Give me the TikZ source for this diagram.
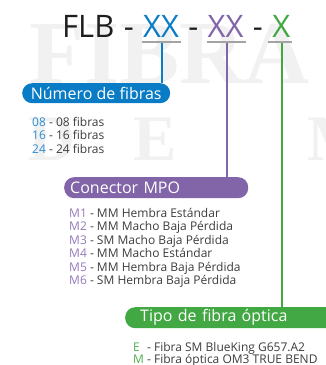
\documentclass[tikz,border=0pt]{standalone}
\usepackage{fontspec}
\setmainfont{Open Sans}
\newfontfamily\wmarkfont{Liberation Serif}
\definecolor{codeblue}{HTML}{0A7CC6}
\definecolor{codepurple}{HTML}{8264A8}
\definecolor{codegreen}{HTML}{42A843}
\definecolor{itemblue}{HTML}{2E8BD0}
\definecolor{itempurple}{HTML}{9479BA}
\definecolor{itemgreen}{HTML}{4DB04E}
\definecolor{titleblack}{HTML}{1E1E1E}
\definecolor{listgray}{HTML}{3C3C3C}
\definecolor{underlinegray}{HTML}{A3A3A3}
\definecolor{wmarkgray}{HTML}{F1F1F1}
\usetikzlibrary{positioning}
\tikzset{
  every node/.style={inner sep=0pt},
  codetitle/.style={font=\fontsize{31}{31}\selectfont, text=titleblack},
  pill/.style={
    rectangle, rounded corners=10pt, minimum height=21pt, text=white,
    font=\fontsize{16}{16}\selectfont, inner xsep=6pt
  },
  codeline/.style={line width=2pt, underlinegray},
  link/.style={line width=2pt},
  itemlist/.style={
    align=left, anchor=north west, text=listgray,
    font=\fontsize{12}{13.5}\selectfont
  },
  wmark/.style={text=wmarkgray, anchor=base west}
}

\begin{document}
\begin{tikzpicture}[x=1pt, y=-1pt]

\clip (0,0) rectangle (326,365);

% Watermark
\node[wmark, font=\wmarkfont\bfseries\fontsize{90}{90}\selectfont] (wmfibra) at (29,83) {FIBRA};
\node[wmark, font=\wmarkfont\bfseries\fontsize{65}{65}\selectfont] (wmde) at (28,160)
  {D\hspace{58pt}E\hspace{131pt}M};

% Code title
\node[codetitle, anchor=base west] (flb) at (62,37) {FLB};
\node[codetitle, base right=9pt of flb] (dasha) {-};
\node[codetitle, text=codeblue, base right=9pt of dasha] (xxa) {XX};
\node[codetitle, base right=9pt of xxa] (dashb) {-};
\node[codetitle, text=codepurple, base right=9pt of dashb] (xxb) {XX};
\node[codetitle, base right=9pt of xxb] (dashc) {-};
\node[codetitle, text=codegreen, base right=9pt of dashc] (xxc) {X};

% Underlines
\draw[codeline] ([xshift=-1pt, yshift=-5pt] xxa.south west) -- ([xshift=2pt, yshift=-5pt] xxa.south east);
\draw[codeline] ([xshift=-1pt, yshift=-5pt] xxb.south west) -- ([xshift=2pt, yshift=-5pt] xxb.south east);
\draw[codeline] ([xshift=-4pt, yshift=-5pt] xxc.south west) -- ([xshift=2pt, yshift=-5pt] xxc.south east);

% Pills
\node[pill, fill=codeblue, minimum width=148pt, minimum height=20pt, anchor=north west] (numpill)
  at (22,83) {Número de fibras};
\node[pill, fill=codepurple, text width=172pt, anchor=north west] (mpopill)
  at (64,177) {Conector MPO};
\node[pill, fill=codegreen, text width=200pt, inner xsep=15pt, anchor=north west] (tipopill)
  at (125,307) {Tipo de fibra óptica};

% Links
\draw[link, codeblue] ([xshift=1pt, yshift=-6pt] xxa.south) -- ([xshift=1pt] xxa.south |- numpill.north);
\draw[link, codepurple] ([xshift=1pt, yshift=-6pt] xxb.south) -- ([xshift=1pt] xxb.south |- mpopill.north);
\draw[link, codegreen] ([xshift=1pt, yshift=-6pt] xxc.south) -- ([xshift=1pt] xxc.south |- tipopill.north);

% Lists
\node[itemlist] (numlist) at (32,117)
  {\textcolor{itemblue}{08} - 08 fibras\\
   \textcolor{itemblue}{16} - 16 fibras\\
   \textcolor{itemblue}{24} - 24 fibras};
\node[itemlist] (mpolist) at (69,208)
  {\textcolor{itempurple}{M1} - MM Hembra Estándar\\
   \textcolor{itempurple}{M2} - MM Macho Baja Pérdida\\
   \textcolor{itempurple}{M3} - SM Macho Baja Pérdida\\
   \textcolor{itempurple}{M4} - MM Macho Estándar\\
   \textcolor{itempurple}{M5} - MM Hembra Baja Pérdida\\
   \textcolor{itempurple}{M6} - SM Hembra Baja Pérdida};
\node[itemlist, font=\fontsize{12}{12.5}\selectfont] (tipolist) at (133,342)
  {\textcolor{itemgreen}{\rlap{E}\phantom{M}} - Fibra SM BlueKing G657.A2\\
   \textcolor{itemgreen}{M} - Fibra óptica OM3 TRUE BEND};

\end{tikzpicture}
\end{document}
